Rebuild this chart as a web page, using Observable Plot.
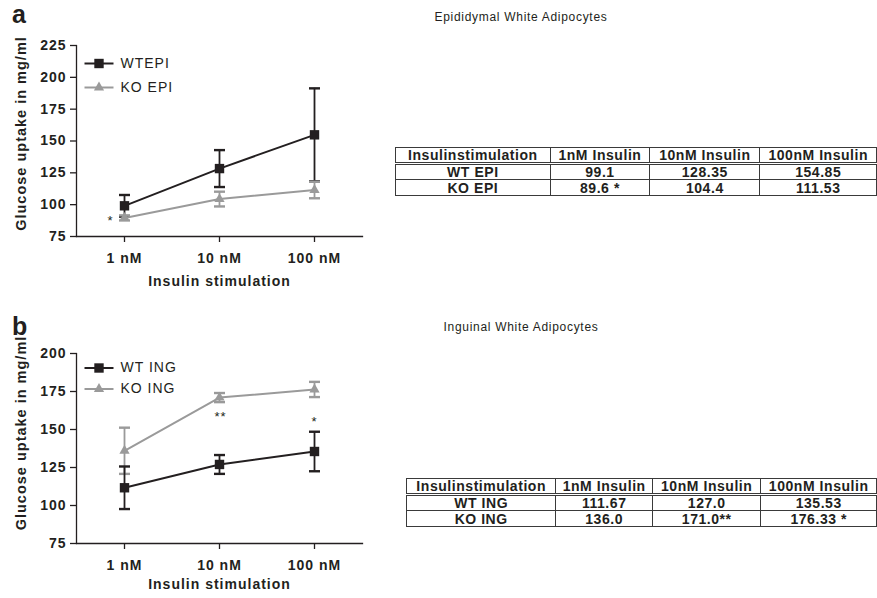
<!DOCTYPE html>
<html>
<head>
<meta charset="utf-8">
<script src="https://cdn.jsdelivr.net/npm/d3@7"></script>
<script src="https://cdn.jsdelivr.net/npm/@observablehq/plot@0.6"></script>
<style>
  body { margin: 0; background: #fff; }
  #root { position: relative; width: 877px; height: 598px; overflow: hidden; font-family: "Liberation Sans", Arial, sans-serif; color: #231f20; }
  .lbl { position: absolute; font-weight: bold; font-size: 25px; line-height: 25px; }
  .ttl { position: absolute; font-size: 12px; line-height: 14px; letter-spacing: 0.7px; white-space: nowrap; transform: translateX(-50%); }
  .plot { position: absolute; left: 0; }
  table.t { position: absolute; border-collapse: collapse; font-weight: bold; font-size: 14px; letter-spacing: 0.55px; table-layout: fixed; }
  table.t td { border: 1px solid #3a3a3a; text-align: center; padding: 0; line-height: 14px; white-space: nowrap; overflow: hidden; }
  table.t tr.h td { border-bottom: 3px double #3a3a3a; }
</style>
</head>
<body>
<div id="root"></div>
<script>
// ---------- data ----------
const doses = ["1 nM", "10 nM", "100 nM"];

const wtEpi    = [99.1, 128.35, 154.85];
const wtEpiErr = [8.5, 14.5, 36.5];
const koEpi    = [89.6, 104.4, 111.53];
const koEpiErr = [2, 5.8, 6.5];

const wtIng    = [111.67, 127.0, 135.53];
const wtIngErr = [14, 6.2, 13];
const koIng    = [136.0, 171.0, 176.33];
const koIngErr = [15.2, 3, 5];

const yTicksA = [75, 100, 125, 150, 175, 200, 225];
const yTicksB = [75, 100, 125, 150, 175, 200];

const sigA = [{dose: "1 nM", v: 89.6, s: "*"}];
const sigB = [{dose: "10 nM", v: 171.0, s: "**"}, {dose: "100 nM", v: 176.33, s: "*"}];

const tableHeader = ["Insulinstimulation", "1nM Insulin", "10nM Insulin", "100nM Insulin"];
const epiRows = [["WT EPI", "99.1", "128.35", "154.85"], ["KO EPI", "89.6 *", "104.4", "111.53"]];
const ingRows = [["WT ING", "111.67", "127.0", "135.53"], ["KO ING", "136.0", "171.0**", "176.33 *"]];

// ---------- styling ----------
const BLACK = "#231f20";
const GRAY = "#9a9a9a";
const hline = (w) => ({ draw(ctx) { ctx.moveTo(-w / 2, 0); ctx.lineTo(w / 2, 0); } });
const rowsOf = (vals, errs) => doses.map((d, i) => ({dose: d, v: vals[i], e: errs[i]}));

function seriesMarks(s) {
  const {rows, color, symbol, r} = s;
  return [
    Plot.ruleX(rows, {x: "dose", y1: d => d.v - d.e, y2: d => d.v + d.e, stroke: color, strokeWidth: 1.8}),
    Plot.dot(rows, {x: "dose", y: d => d.v + d.e, symbol: hline(11), stroke: color, strokeWidth: 2.4, fill: "none"}),
    Plot.dot(rows, {x: "dose", y: d => d.v - d.e, symbol: hline(11), stroke: color, strokeWidth: 2.4, fill: "none"}),
    Plot.line(rows, {x: "dose", y: "v", stroke: color, strokeWidth: 2}),
    Plot.dot(rows, {x: "dose", y: "v", symbol, r, fill: color, stroke: "none"})
  ];
}

function legendMarks(items) {
  return items.flatMap(it => [
    Plot.dot([0], {frameAnchor: "top-left", dx: 22.5, dy: it.dy, symbol: hline(29), stroke: it.color, strokeWidth: 2, fill: "none"}),
    Plot.dot([0], {frameAnchor: "top-left", dx: 22.5, dy: it.dy, symbol: it.symbol, r: it.r, fill: it.color, stroke: "none"}),
    Plot.text([it.name], {frameAnchor: "top-left", dx: 44, dy: it.dy, text: d => d, textAnchor: "start", lineAnchor: "middle", fontWeight: "normal", fontSize: 14})
  ]);
}

function panel(cfg) {
  const wt = {rows: rowsOf(cfg.wt, cfg.wtErr), color: BLACK, symbol: "square", r: 5.3};
  const ko = {rows: rowsOf(cfg.ko, cfg.koErr), color: GRAY, symbol: "triangle", r: 3.8};
  const ordered = cfg.koOnTop ? [wt, ko] : [ko, wt];
  return Plot.plot({
    width: 380,
    height: cfg.height,
    marginLeft: 76,
    marginRight: 18,
    marginTop: cfg.mt,
    marginBottom: cfg.mb,
    x: {type: "point", domain: doses, padding: 0.5, axis: null},
    y: {domain: cfg.domain, axis: null},
    style: {fontFamily: "'Liberation Sans', Arial, sans-serif", fontSize: "14px", fontWeight: "bold", letterSpacing: "1px", color: BLACK, background: "transparent", overflow: "visible"},
    marks: [
      Plot.frame({anchor: "left", stroke: BLACK, strokeWidth: 1.3}),
      Plot.frame({anchor: "bottom", stroke: BLACK, strokeWidth: 1.3}),
      Plot.axisY(cfg.ticks, {tickSize: 6, tickPadding: 4, strokeWidth: 1.3, label: null}),
      Plot.axisX(doses, {tickSize: 6, tickPadding: 11, strokeWidth: 1.3, label: null}),
      Plot.text(["Glucose uptake in mg/ml"], {frameAnchor: "left", dx: -55.5, dy: cfg.yTitleDy, rotate: -90, textAnchor: "middle", lineAnchor: "middle", text: d => d, fontSize: 14.5, fontWeight: "bold", letterSpacing: "1.5px"}),
      Plot.text(["Insulin stimulation"], {frameAnchor: "bottom", dy: cfg.xTitleDy, textAnchor: "middle", lineAnchor: "middle", text: d => d, fontSize: 14, fontWeight: "bold"}),
      ...seriesMarks(ordered[0]),
      ...seriesMarks(ordered[1]),
      ...cfg.sig.map((s, i) => Plot.text([s], {x: "dose", y: "v", text: "s", dx: cfg.sigOff[i][0], dy: cfg.sigOff[i][1], fontSize: 13, fontWeight: "normal", fill: BLACK})),
      ...legendMarks(cfg.legend)
    ]
  });
}

function makeTable(rows, left, top, widths) {
  const t = document.createElement("table");
  t.className = "t";
  t.style.left = left + "px";
  t.style.top = top + "px";
  const cg = document.createElement("colgroup");
  widths.forEach(w => { const c = document.createElement("col"); c.style.width = w + "px"; cg.appendChild(c); });
  t.appendChild(cg);
  [tableHeader, ...rows].forEach((r, i) => {
    const tr = document.createElement("tr");
    if (i === 0) tr.className = "h";
    tr.style.height = (i === 0 ? 15 : 16) + "px";
    r.forEach(v => { const td = document.createElement("td"); td.textContent = v; tr.appendChild(td); });
    t.appendChild(tr);
  });
  return t;
}

// ---------- layout ----------
const root = document.getElementById("root");
function addDiv(cls, text, css) {
  const d = document.createElement("div");
  d.className = cls; d.textContent = text;
  Object.assign(d.style, css);
  root.appendChild(d);
}

const pa = panel({
  wt: wtEpi, wtErr: wtEpiErr, ko: koEpi, koErr: koEpiErr,
  domain: [75, 225], ticks: yTicksA, height: 300, mt: 45, mb: 64,
  yTitleDy: -7.5, xTitleDy: 45, koOnTop: true,
  sig: sigA, sigOff: [[-14, 3]],
  legend: [
    {name: "WTEPI", color: BLACK, symbol: "square", r: 5.3, dy: 18},
    {name: "KO EPI", color: GRAY, symbol: "triangle", r: 3.8, dy: 42}
  ]
});
pa.classList.add("plot"); pa.style.top = "0px";
root.appendChild(pa);

const pb = panel({
  wt: wtIng, wtErr: wtIngErr, ko: koIng, koErr: koIngErr,
  domain: [75, 200], ticks: yTicksB, height: 298, mt: 53, mb: 55,
  yTitleDy: -15.5, xTitleDy: 41, koOnTop: false,
  sig: sigB, sigOff: [[1, 19], [0, 32]],
  legend: [
    {name: "WT ING", color: BLACK, symbol: "square", r: 5.3, dy: 14.5},
    {name: "KO ING", color: GRAY, symbol: "triangle", r: 3.8, dy: 35.5}
  ]
});
pb.classList.add("plot"); pb.style.top = "300px";
root.appendChild(pb);

addDiv("lbl", "a", {left: "12px", top: "2px"});
addDiv("lbl", "b", {left: "12px", top: "314px"});
addDiv("ttl", "Epididymal White Adipocytes", {left: "521px", top: "10px"});
addDiv("ttl", "Inguinal White Adipocytes", {left: "521px", top: "320px"});

root.appendChild(makeTable(epiRows, 395, 147, [157, 101, 112, 118]));
root.appendChild(makeTable(ingRows, 406, 478, [150, 97, 109, 116]));
</script>
</body>
</html>
